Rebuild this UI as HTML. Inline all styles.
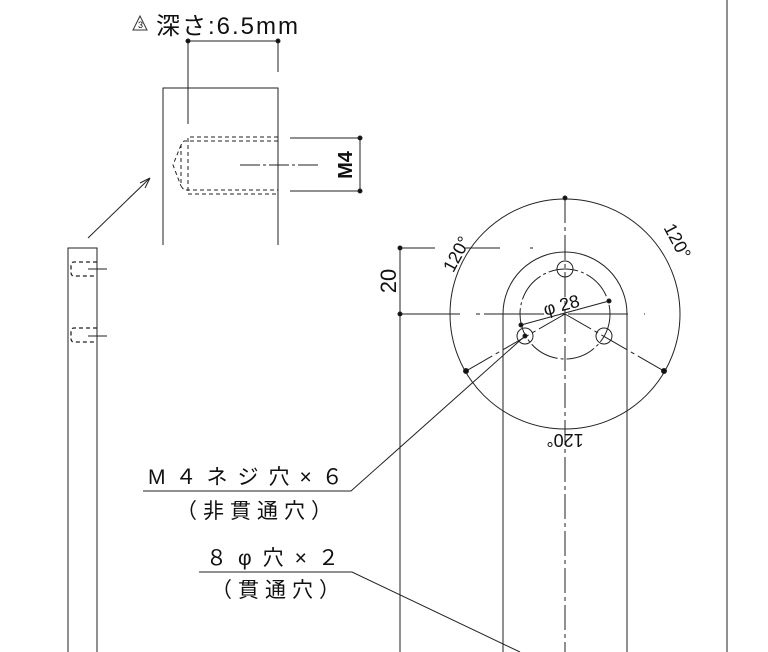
<!DOCTYPE html>
<html><head><meta charset="utf-8"><style>
html,body{margin:0;padding:0;background:#fff;width:768px;height:652px;overflow:hidden}
text{font-family:"Liberation Sans","Noto Sans CJK JP",sans-serif;fill:#111}
</style></head><body>
<svg width="768" height="652" viewBox="0 0 768 652" xmlns="http://www.w3.org/2000/svg" stroke="#222" fill="none" stroke-width="1">
<line x1="727" y1="0" x2="727" y2="652"/>
<rect x="68" y="248" width="29" height="410"/>
<g stroke-dasharray="4,3" stroke-width="1.3">
<path d="M97 262 H74 Q71 262 71 266 V272 Q71 276 74 276 H97"/>
<path d="M97 328 H74 Q71 328 71 332 V338 Q71 342 74 342 H97"/>
</g>
<line x1="88" y1="269" x2="107" y2="269"/>
<line x1="88" y1="336" x2="107" y2="336"/>
<line x1="88" y1="238" x2="150" y2="178"/>
<path d="M150 178 L140 183 M150 178 L145 188"/>
<path d="M163 245 V88 H278 V245"/>
<g stroke-dasharray="4,3">
<path d="M278 137 H188 V194 H278"/>
<path d="M278 141 H184 L181 145 V186 L184 190 H278"/>
<path d="M181 145 L173 165 L181 186"/>
</g>
<line x1="188" y1="41" x2="278" y2="41"/>
<line x1="188" y1="41" x2="188" y2="124"/>
<line x1="278" y1="41" x2="278" y2="72"/>
<circle cx="188" cy="41" r="2" fill="#111"/><circle cx="278" cy="41" r="2" fill="#111"/>
<line x1="240" y1="165" x2="320" y2="165" stroke-dasharray="20,3,3,3"/>
<line x1="290" y1="138" x2="360" y2="138"/><line x1="290" y1="191" x2="360" y2="191"/>
<line x1="360" y1="138" x2="360" y2="191"/>
<circle cx="360" cy="138" r="2" fill="#111"/><circle cx="360" cy="191" r="2" fill="#111"/>
<text transform="translate(352,165) rotate(-90)" text-anchor="middle" font-size="20" font-weight="bold" stroke="none">M4</text>
<path d="M140 16 L133 30 H147 Z" stroke="#333"/>
<text x="138" y="28" font-size="9" stroke="none">3</text>
<text x="156" y="34" font-size="24" letter-spacing="2" stroke="none">深さ:6.5mm</text>
<circle cx="565" cy="314" r="115"/>
<path d="M503 652 V314 A62 62 0 0 1 627 314 V652"/>
<circle cx="565" cy="314" r="45" stroke-dasharray="30,3,3,3"/>
<circle cx="565" cy="269" r="8"/><circle cx="525" cy="336" r="8"/><circle cx="604" cy="336" r="8"/>
<line x1="565" y1="198" x2="565" y2="652" stroke-dasharray="25,4,4,4"/>
<line x1="400" y1="314" x2="645" y2="314" stroke-dasharray="60,16,4,4"/>
<line x1="565" y1="314" x2="466" y2="371" stroke-dasharray="30,4,4,4"/>
<line x1="565" y1="314" x2="664" y2="371" stroke-dasharray="30,4,4,4"/>
<line x1="400" y1="248" x2="533" y2="248" stroke-dasharray="35,30"/>
<line x1="400" y1="248" x2="400" y2="652"/>
<circle cx="400" cy="248" r="2" fill="#111"/><circle cx="400" cy="314" r="2" fill="#111"/>
<circle cx="565" cy="198" r="2" fill="#111"/><circle cx="466" cy="371" r="2.5" fill="#111"/><circle cx="664" cy="371" r="2.5" fill="#111"/>
<line x1="521" y1="325" x2="609" y2="301"/>
<circle cx="521" cy="325" r="2" fill="#111"/><circle cx="609" cy="301" r="2" fill="#111"/><circle cx="525" cy="336" r="2" fill="#111"/>
<text transform="translate(396,281) rotate(-90)" text-anchor="middle" font-size="22" stroke="none">20</text>
<text transform="translate(462,257) rotate(-62)" font-size="18" text-anchor="middle" stroke="none">120°</text>
<text transform="translate(672,244) rotate(62)" font-size="18" text-anchor="middle" stroke="none">120°</text>
<text transform="translate(565,434) rotate(180)" font-size="18" text-anchor="middle" stroke="none">120°</text>
<text transform="translate(563,311) rotate(-15)" font-size="18" text-anchor="middle" stroke="none">φ 28</text>
<path d="M143 491 H351 L525 336"/>
<path d="M199 572 H352 L520 652"/>
<text x="148" y="484" font-size="21" letter-spacing="10" stroke="none">M４ネジ穴×６</text>
<text x="176" y="518" font-size="21" letter-spacing="6" stroke="none">（非貫通穴）</text>
<text x="206" y="565" font-size="21" letter-spacing="11" stroke="none">８φ穴×２</text>
<text x="211" y="597" font-size="21" letter-spacing="6" stroke="none">（貫通穴）</text>
</svg>
</body></html>
